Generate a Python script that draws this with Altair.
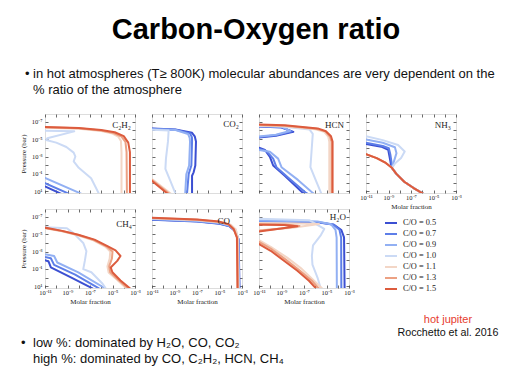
import altair as alt
import pandas as pd

CO_LEVELS = ['0.5', '0.7', '0.9', '1.0', '1.1', '1.3', '1.5']
CO_COLORS = ['#3b4fd2', '#5d7ee8', '#92b0f3', '#cbdaf5', '#f3d6c6', '#eca183', '#dc5b3d']

# curves: C/O -> (log10 molar fraction, log10 pressure [bar])
C2H2 = {
    '0.5': ([-12, -11, -9.55], [-0.12, 0.45, 1.3]),
    '0.7': ([-12, -11, -8.85], [-0.5, 0.07, 1.3]),
    '0.9': ([-12, -11, -7.75], [-1.1, -0.55, 1.3]),
    '1.0': ([-12, -8.4, -10.8, -10.9, -10.0, -9.1, -8.45, -8.3, -8.45, -8.0, -6.9, -6.2],
            [-6.0, -5.9, -5.1, -4.9, -4.6, -4.1, -3.45, -3.0, -2.45, -1.7, -0.5, 1.3]),
    '1.1': ([-12, -8, -6, -5.0, -4.5, -4.25, -4.2, -4.2], [-6.35, -6.2, -5.95, -5.65, -5.3, -4.8, -3.5, 1.3]),
    '1.3': ([-12, -8, -6, -4.9, -4.2, -3.85, -3.75, -3.72], [-6.4, -6.25, -6.0, -5.7, -5.3, -4.7, -3.5, 1.3]),
    '1.5': ([-12, -8, -6, -4.8, -4.0, -3.6, -3.45, -3.45], [-6.45, -6.3, -6.05, -5.8, -5.35, -4.6, -3.5, 1.3]),
}
CO2 = {
    '0.5': ([-12, -8.93, -7.44, -7.2, -7.09, -7.15, -7.3, -7.44, -7.44],
            [-6.28, -6.12, -5.73, -5.33, -4.74, -1.97, -1.18, -0.79, 1.3]),
    '0.7': ([-12, -8.9, -7.6, -7.45, -7.44, -7.5, -7.74, -7.89], [-6.24, -6.08, -5.65, -5.2, -4.74, -1.97, -0.98, 1.3]),
    '0.9': ([-12, -8.9, -7.8, -7.65, -7.62, -7.7, -7.95, -8.05], [-6.2, -6.05, -5.6, -5.15, -4.7, -1.97, -0.95, 1.3]),
    '1.0': ([-12, -9.52, -9.58, -9.76, -9.81, -9.37, -8.9], [-6.15, -6.0, -4.74, -2.76, -1.58, -0.19, 1.3]),
    '1.1': ([-12, -11, -9.3], [-1.0, -0.4, 1.3]),
    '1.3': ([-12, -11, -9.45], [-0.85, -0.3, 1.3]),
    '1.5': ([-12, -11, -9.6], [-0.75, -0.19, 1.3]),
}
HCN = {
    '0.5': ([-12, -11, -9, -7.95, -9.5, -11, -12, -11, -10.47, -10.03, -9.74, -8.71, -7.1, -6.95],
            [-6.5, -6.45, -6.35, -5.84, -5.4, -5.2, -4.6, -4.03, -3.75, -2.96, -1.97, -0.79, 1.19, 1.3]),
    '0.7': ([-12, -11, -9, -8.1, -9.5, -11, -12, -11, -10.33, -9.74, -9.45, -8.42, -6.81, -6.66],
            [-6.55, -6.5, -6.4, -5.9, -5.45, -5.25, -4.6, -3.87, -3.63, -2.76, -1.77, -0.59, 1.19, 1.3]),
    '0.9': ([-12, -11, -9, -8.25, -9.5, -11, -12, -11, -10.03, -9.3, -9.0, -7.54, -6.22, -6.1],
            [-6.6, -6.55, -6.45, -5.95, -5.5, -5.3, -4.6, -3.75, -3.55, -2.76, -1.77, -0.31, 1.19, 1.3]),
    '1.0': ([-12, -9, -6.5, -6.22, -6.31, -6.43, -5.93, -5.45], [-6.55, -6.45, -6.1, -5.61, -3.95, -1.77, -0.19, 1.3]),
    '1.1': ([-12, -8.7, -6.0, -5.2, -4.85, -4.75, -4.75], [-6.6, -6.5, -6.15, -5.85, -5.3, -4.7, 1.3]),
    '1.3': ([-12, -8.7, -5.9, -5.1, -4.7, -4.55, -4.55], [-6.65, -6.55, -6.2, -5.9, -5.3, -4.7, 1.3]),
    '1.5': ([-12, -8.71, -5.78, -5.05, -4.6, -4.46, -4.46], [-6.72, -6.6, -6.24, -5.92, -5.33, -4.74, 1.3]),
}
NH3 = {
    '0.5': ([-12, -11, -9.64, -9.02, -8.91, -8.75, -8.7, -8.3, -7.6, -6.8, -5.9],
            [-4.6, -4.44, -4.14, -3.76, -3.01, -1.88, -1.7, -1.0, -0.1, 0.6, 1.3]),
    '0.7': ([-12, -11, -9.51, -8.97, -8.83, -8.7, -8.7, -8.3, -7.6, -6.8, -5.9],
            [-4.75, -4.59, -4.22, -3.95, -3.2, -2.07, -1.7, -1.0, -0.1, 0.6, 1.3]),
    '0.9': ([-12, -11, -9.51, -8.43, -8.29, -8.55, -8.7, -8.3, -7.6, -6.8, -5.9],
            [-5.15, -4.97, -4.59, -4.07, -3.39, -2.3, -1.7, -1.0, -0.1, 0.6, 1.3]),
    '1.0': ([-12, -11, -9.51, -8.15, -7.56, -7.88, -8.43, -8.7, -8.3, -7.6, -6.8, -5.9],
            [-5.55, -5.34, -4.89, -4.33, -3.58, -2.82, -2.19, -1.7, -1.0, -0.1, 0.6, 1.3]),
    '1.1': ([-12, -11, -10.05, -9.24, -8.7, -8.3, -7.6, -6.8, -5.9], [-3.6, -3.28, -2.82, -2.26, -1.7, -1.0, -0.1, 0.6, 1.3]),
    '1.3': ([-12, -11, -10.05, -9.24, -8.7, -8.3, -7.6, -6.8, -5.9], [-3.6, -3.28, -2.82, -2.26, -1.7, -1.0, -0.1, 0.6, 1.3]),
    '1.5': ([-12, -11, -10.05, -9.24, -8.7, -8.3, -7.6, -6.8, -5.9], [-3.6, -3.28, -2.82, -2.26, -1.7, -1.0, -0.1, 0.6, 1.3]),
}
CH4 = {
    '0.5': ([-12, -11, -10.68, -10.48, -8.61, -6.74], [-2.3, -2.0, -1.85, -1.17, 0.03, 1.27]),
    '0.7': ([-12, -11, -10.48, -10.19, -8.32, -6.17], [-2.7, -2.38, -2.23, -1.47, -0.35, 1.27]),
    '0.9': ([-12, -11, -10.19, -9.91, -8.04, -5.7], [-3.0, -2.68, -2.49, -1.74, -0.61, 1.2]),
    '1.0': ([-12, -9.05, -8.47, -7.6, -7.32, -7.46, -7.6, -6.88, -5.88, -5.59],
            [-5.85, -5.68, -5.12, -3.99, -3.05, -1.92, -0.98, -0.61, 0.71, 1.27]),
    '1.1': ([-12, -9.5, -8.1, -6.7, -5.65, -5.2, -5.25, -5.45, -5.35, -4.6, -3.75],
            [-5.93, -5.34, -4.88, -4.3, -3.58, -3.0, -2.2, -1.3, -0.6, 0.25, 1.27]),
    '1.3': ([-12, -9.5, -8.05, -6.65, -5.55, -5.0, -5.05, -5.3, -5.2, -4.45, -3.6],
            [-5.95, -5.36, -4.9, -4.33, -3.6, -3.0, -2.2, -1.3, -0.6, 0.3, 1.27]),
    '1.5': ([-12, -9.47, -8.04, -6.6, -5.45, -4.73, -4.29, -4.58, -5.16, -5.01, -4.29, -3.43],
            [-6.0, -5.38, -4.93, -4.37, -3.62, -3.13, -2.49, -1.92, -1.17, -0.61, 0.33, 1.27]),
}
CO = {
    '0.5': ([-12, -7, -5, -4.1, -3.6, -3.3, -3.22], [-6.72, -6.45, -6.2, -5.9, -5.35, -4.4, 1.3]),
    '0.7': ([-12, -7, -5, -4.1, -3.62, -3.32, -3.25], [-6.75, -6.48, -6.23, -5.93, -5.38, -4.42, 1.3]),
    '0.9': ([-12, -7, -5, -4.12, -3.64, -3.34, -3.28], [-6.8, -6.53, -6.28, -5.98, -5.42, -4.45, 1.3]),
    '1.0': ([-12, -7, -5, -4.0, -3.55, -3.35, -3.3], [-6.85, -6.6, -6.35, -6.05, -5.5, -4.5, 1.3]),
    '1.1': ([-12, -7, -5, -4.0, -3.55, -3.38, -3.33], [-6.88, -6.63, -6.38, -6.1, -5.55, -4.55, 1.3]),
    '1.3': ([-12, -7, -5, -4.15, -3.7, -3.42, -3.38], [-6.9, -6.66, -6.4, -6.1, -5.55, -4.55, 1.3]),
    '1.5': ([-12, -7, -5, -4.2, -3.75, -3.45, -3.4], [-6.95, -6.7, -6.45, -6.15, -5.6, -4.6, 1.3]),
}
H2O = {
    '0.5': ([-12, -5.81, -4.33, -3.68, -3.44, -3.39], [-6.5, -6.36, -6.09, -5.48, -4.63, 1.3]),
    '0.7': ([-12, -5.8, -4.4, -3.85, -3.7, -3.68], [-6.55, -6.4, -6.12, -5.5, -4.6, 1.3]),
    '0.9': ([-12, -5.8, -4.6, -4.2, -4.1, -4.08], [-6.6, -6.45, -6.15, -5.5, -4.6, 1.3]),
    '1.0': ([-12, -6.5, -5.2, -5.5, -6.2, -6.3, -6.25, -5.8, -5.5], [-6.8, -6.6, -5.6, -4.9, -3.7, -2.5, -1.5, 0.0, 1.3]),
    '1.1': ([-12, -8.5, -5.67, -8.0, -11, -12, -11, -9.96, -8.5, -7.2, -6.15, -5.35],
            [-6.3, -6.25, -6.17, -5.75, -5.45, -5.0, -4.3, -3.55, -2.3, -1.0, 0.3, 1.3]),
    '1.3': ([-12, -8.7, -7.4, -9.0, -11, -12, -11, -9.96, -8.65, -7.35, -6.3, -5.65],
            [-6.2, -6.12, -5.95, -5.65, -5.38, -5.0, -4.1, -3.35, -2.1, -0.78, 0.37, 1.3]),
    '1.5': ([-12, -8.78, -7.59, -9.37, -11, -12, -11, -9.96, -8.78, -7.59, -6.56, -5.9],
            [-6.12, -6.05, -5.9, -5.59, -5.32, -5.0, -3.86, -3.09, -1.94, -0.78, 0.37, 1.3]),
}

X_TICKS = list(range(-11, -2))
Y_TICKS = list(range(-7, 2))
X_LABELS = [-11, -9, -7, -5, -3]
Y_LABELS = [-7, -5, -3, -1, 1]

SERIF = 'Liberation Serif'
SANS = 'Liberation Sans'
W, H = 90, 79

SUP = str.maketrans('-0123456789', '⁻⁰¹²³⁴⁵⁶⁷⁸⁹')


def label_expr(exps):
    e = "round(log(datum.value)/LN10)"
    return ''.join(f"{e} == {k} ? '10{str(k).translate(SUP)}' : " for k in exps) + "''"


XS = alt.Scale(type='log', domain=[1e-11, 1e-3], nice=False)
YS = alt.Scale(type='log', domain=[10 ** -7.9, 10 ** 1.2], nice=False, reverse=True)
CS = alt.Scale(domain=CO_LEVELS, range=CO_COLORS)
LEG = alt.Legend(orient='none', legendX=339, legendY=102, title=None, symbolType='stroke',
                 symbolStrokeWidth=2, symbolSize=144, labelFont=SERIF, labelFontSize=8.3,
                 labelColor='#222', labelExpr="'C/O = ' + datum.label", rowPadding=-1,
                 labelOffset=5)


def axis(orient, labels=False, title=None):
    is_x = orient in ('top', 'bottom')
    vals = [10.0 ** e for e in (X_TICKS if is_x else Y_TICKS)]
    kw = dict(orient=orient, values=vals, grid=False, domain=False, tickSize=3, offset=-3,
              tickColor='#444', tickWidth=0.8, minExtent=0, labels=labels)
    if labels:
        kw.update(labelExpr=label_expr(X_LABELS if is_x else Y_LABELS), labelFont=SERIF,
                  labelFontSize=6.5, labelColor='#222', labelPadding=1 if is_x else 3,
                  labelFlush=False, labelOverlap=False)
    if title:
        kw.update(title=title, titleFont=SERIF, titleFontSize=7, titleFontWeight='normal',
                  titleColor='#222', titlePadding=2 if is_x else 5)
    else:
        kw.update(title=None)
    return alt.Axis(**kw)


CORNERS = pd.DataFrame({'x': [1e-11, 1e-3], 'p': [10 ** -7.9, 10 ** 1.2]})


def panel(curves, label, lab_r, lab_y, left=False, bottom=False, extra=None):
    rows = []
    for co in CO_LEVELS:
        if co in curves:
            xs, ps = curves[co]
            for i, (lx, lp) in enumerate(zip(xs, ps)):
                rows.append({'co': co, 'i': i, 'x': 10.0 ** lx, 'p': 10.0 ** lp})
    df = pd.DataFrame(rows)
    lines = alt.Chart(df).mark_line(clip=True, strokeWidth=2, strokeJoin='round').encode(
        x=alt.X('x:Q', scale=XS, axis=axis('bottom', bottom, 'Molar fraction' if bottom else None)),
        y=alt.Y('p:Q', scale=YS, axis=axis('left', left, 'Pressure (bar)' if left else None)),
        color=alt.Color('co:N', scale=CS, legend=LEG),
        order='i:Q',
    )
    ghost = alt.Chart(CORNERS).mark_point(opacity=0, size=1).encode(
        x=alt.X('x:Q', scale=XS, axis=axis('top')),
        y=alt.Y('p:Q', scale=YS, axis=axis('right')),
    )
    txt = alt.Chart(pd.DataFrame({'t': [label]})).mark_text(
        align='right', baseline='middle', font=SERIF, fontSize=9, color='#222'
    ).encode(x=alt.value(W - lab_r), y=alt.value(lab_y), text='t:N')
    layers = [lines, ghost, txt] + (extra or [])
    return alt.layer(*layers).resolve_axis(x='independent', y='independent').properties(width=W, height=H)


def note(text, x, y, size, align='left', color='#111', weight='normal'):
    return alt.Chart(pd.DataFrame({'t': [text]})).mark_text(
        align=align, baseline='alphabetic', font=SANS, fontSize=size, color=color, fontWeight=weight
    ).encode(x=alt.value(x), y=alt.value(y), text='t:N')


anchor = alt.Chart(pd.DataFrame({'a': [0]})).mark_rule(color='white', strokeWidth=1).encode(
    x=alt.value(-36), x2=alt.value(100), y=alt.value(-104.5))

slide = [
    anchor,
    note('Carbon-Oxygen ratio', 211, -75, 29, align='center', color='#000', weight='bold'),
    note('•', -20, -36, 13),
    note('in hot atmospheres (T≥ 800K) molecular abundances are very dependent on the', -12, -36, 13),
    note('% ratio of the atmosphere', -12, -20, 13),
    note('hot jupiter', 403, 209, 11, align='center', color='#e63c2f'),
    note('Rocchetto et al. 2016', 403, 222, 10.7, align='center'),
    note('•', -24, 233, 13),
    note('low %: dominated by H₂O, CO, CO₂', -12, 233, 13),
    note('high %: dominated by CO, C₂H₂, HCN, CH₄', -12, 249, 13),
]

panels = [
    panel(C2H2, 'C₂H₂', 4, 11, left=True, extra=slide),
    panel(CO2, 'CO₂', 3, 10),
    panel(HCN, 'HCN', 5, 11),
    panel(NH3, 'NH₃', 5, 11, bottom=True),
    panel(CH4, 'CH₄', 3, 15, left=True, bottom=True),
    panel(CO, 'CO', 12, 12, bottom=True),
    panel(H2O, 'H₂O', 3, 8, bottom=True),
]

chart = alt.concat(*panels, columns=4, spacing={'row': 16, 'column': 17}, bounds='flush').properties(
    padding=0
).configure_view(stroke='#4d4d4d', strokeWidth=1.5).configure(background='white')

chart.save('out.html', embed_options={'renderer': 'svg', 'actions': False})
